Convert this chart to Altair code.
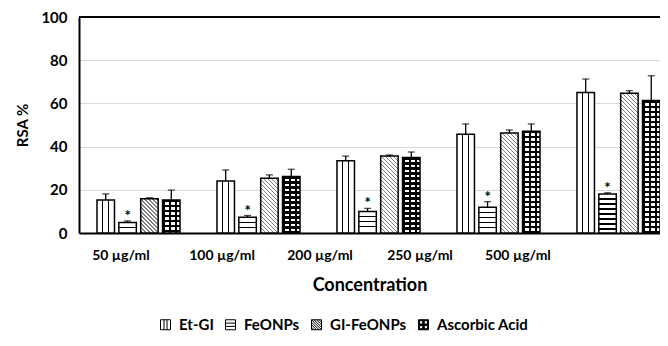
import altair as alt

# ---------------- data ----------------
CONC = ["50 µg/ml", "100 µg/ml", "200 µg/ml", "250 µg/ml", "500 µg/ml"]
SERIES = ["Et-GI", "FeONPs", "GI-FeONPs", "Ascorbic Acid"]

ET_GI = [15.3, 24.1, 33.5, 45.7, 65.1]
ET_GI_ERR = [2.8, 5.1, 2.1, 4.8, 6.2]
FEONPS = [4.9, 7.3, 9.9, 11.9, 18.0]
FEONPS_ERR = [0.7, 0.8, 1.5, 2.6, 0.6]
GI_FEONPS = [15.9, 25.3, 35.6, 46.3, 64.7]
GI_FEONPS_ERR = [0.4, 1.6, 0.5, 1.4, 1.2]
ASCORBIC = [15.3, 26.2, 35.0, 47.1, 61.3]
ASCORBIC_ERR = [4.6, 3.3, 2.5, 3.4, 11.5]
STAR = ["", "*", "", ""]          # significance mark per series

Y_TICKS = [0, 20, 40, 60, 80, 100]

# ---------------- layout / style ----------------
FONT = "Lato"
PLOT_W, PLOT_H, Y_MAX = 581, 216, 100
PX = PLOT_H / Y_MAX
GROUP_W = PLOT_W / (5 - 0.308 + 2 * 0.075) * (1 - 0.308)
BAR_W = GROUP_W / (4 - 0.2) * (1 - 0.2)
LABEL_SHIFT = [-17.5, -36.5, -58.5, -78.5, -100.5]


def band_stops(intervals, light, dark):
    stops = [{"offset": 0, "color": light}]
    for a, b in intervals:
        a = max(0.0, min(1.0, a))
        b = max(0.0, min(1.0, b))
        if b <= a:
            continue
        stops += [{"offset": a, "color": light}, {"offset": a, "color": dark},
                  {"offset": b, "color": dark}, {"offset": b, "color": light}]
    stops.append({"offset": 1, "color": light})
    return stops


def periodic(length, period, dark_w, phase):
    out, s = [], phase
    while s < length:
        out.append((s / length, (s + dark_w) / length))
        s += period
    return out


def grad(x1, y1, x2, y2, stops):
    return {"gradient": "linear", "x1": x1, "y1": y1, "x2": x2, "y2": y2, "stops": stops}


def fills(series, v):
    h = max(v * PX, 1.0)
    w = BAR_W
    if series == "Et-GI":
        g = grad(0, 0, 1, 0, band_stops([(0.30, 0.37), (0.63, 0.70)], "white", "black"))
        return g, "transparent"
    if series == "FeONPs":
        iv, k = [], 1
        while 5 * k < h - 1.5:
            iv.append(((5 * k - 0.7) / h, (5 * k + 0.7) / h))
            k += 1
        return grad(0, 0, 0, 1, band_stops(iv, "white", "black")), "transparent"
    if series == "GI-FeONPs":
        L = w + h
        kk = L / (w * w + h * h)
        g = grad(0, 1, kk * w, 1 - kk * h, band_stops(periodic(L, 4.0, 1.3, 1.0), "white", "#808080"))
        return g, "transparent"
    g1 = grad(0, 0, 0, 1, band_stops(periodic(h, 5.0, 2.2, 0.0), "white", "black"))
    g2 = grad(0, 0, 1, 0, band_stops(periodic(w, 5.8, 2.4, 0.4), "rgba(0,0,0,0)", "black"))
    return g1, g2


VALUES = [ET_GI, FEONPS, GI_FEONPS, ASCORBIC]
ERRORS = [ET_GI_ERR, FEONPS_ERR, GI_FEONPS_ERR, ASCORBIC_ERR]
records = []
for si, s in enumerate(SERIES):
    for ci, c in enumerate(CONC):
        v, e = VALUES[si][ci], ERRORS[si][ci]
        g1, g2 = fills(s, v)
        records.append({"conc": c, "series": s, "value": v, "upper": v + e,
                        "grad": g1, "grad2": g2, "star": STAR[si]})
data = alt.Data(values=records)

SHAPES = [
    "M-1,-1H1V1H-1Z M-0.3,-1V1 M0.3,-1V1",
    "M-1,-1H1V1H-1Z M-1,-0.33H1 M-1,0.33H1",
    "M-1,-1H1V1H-1Z M-1,-1L1,1 M-0.5,-1L1,0.5 M0,-1L1,0 M0.5,-1L1,-0.5 "
    "M-1,-0.5L0.5,1 M-1,0L0,1 M-1,0.5L-0.5,1",
    "M-1,-1H1V1H-1Z M-0.8,-0.8V-0.15H-0.15V-0.8Z M0.15,-0.8V-0.15H0.8V-0.8Z "
    "M-0.8,0.15V0.8H-0.15V0.15Z M0.15,0.15V0.8H0.8V0.15Z",
]
LEGEND_FILL = ["white", "white", "white", "black"]
LEGEND_STROKE = ["black", "black", "black", "black"]

conc_list = "[" + ",".join("'" + c + "'" for c in CONC) + "]"
shift_list = "[" + ",".join(str(o) for o in LABEL_SHIFT) + "]"
offset_expr = shift_list + "[indexof(" + conc_list + ", datum.value)]"

x_enc = alt.X(
    "conc:N", sort=CONC, title="Concentration",
    scale=alt.Scale(domain=CONC, paddingInner=0.308, paddingOuter=0.075, align=1),
    axis=alt.Axis(labelAngle=0, ticks=False, domainColor="black", domainWidth=2,
                  labelFont=FONT, labelFontWeight="bold", labelFontSize=14,
                  labelColor="black", labelPadding=15,
                  labelOffset={"expr": offset_expr},
                  titleFont=FONT, titleFontWeight="bold", titleFontSize=18,
                  titleColor="black", titleY=52, titleBaseline="middle"),
)
xo_enc = alt.XOffset("series:N", sort=SERIES,
                     scale=alt.Scale(domain=SERIES, paddingInner=0.2, paddingOuter=0))
y_enc = alt.Y(
    "value:Q", title="RSA %",
    scale=alt.Scale(domain=[0, Y_MAX], nice=False),
    axis=alt.Axis(values=Y_TICKS, grid=True, gridColor="#d9d9d9", gridWidth=1,
                  ticks=False, domainColor="black", domainWidth=2,
                  labelFont=FONT, labelFontWeight="bold", labelFontSize=15,
                  labelColor="black", labelPadding=12,
                  titleFont=FONT, titleFontWeight="bold", titleFontSize=15,
                  titleColor="black", titleAngle=-90, titleBaseline="middle",
                  titleX=-57, titleY=PLOT_H / 2),
)

legend = alt.Legend(orient="none", legendX=79, legendY=300, direction="horizontal",
                    title=None, symbolSize=100, symbolStrokeColor="black",
                    symbolStrokeWidth=1, symbolOpacity=1,
                    labelFont=FONT, labelFontWeight="bold", labelFontSize=15,
                    labelColor="black", labelOffset=6, columnPadding=9)

legend_layer = alt.Chart(data).mark_point(filled=True, size=0, strokeWidth=1).encode(
    x=x_enc, xOffset=xo_enc, y=y_enc,
    color=alt.Color("series:N", sort=SERIES,
                    scale=alt.Scale(domain=SERIES, range=LEGEND_FILL), legend=legend),
    stroke=alt.Stroke("series:N", sort=SERIES,
                      scale=alt.Scale(domain=SERIES, range=LEGEND_STROKE), legend=legend),
    shape=alt.Shape("series:N", sort=SERIES,
                    scale=alt.Scale(domain=SERIES, range=SHAPES), legend=legend),
)

bars_a = alt.Chart(data).mark_bar(strokeWidth=0).encode(
    x=x_enc, xOffset=xo_enc, y=y_enc,
    fill=alt.Fill("grad:N", scale=None, legend=None),
)
bars_b = alt.Chart(data).mark_bar(stroke="black", strokeWidth=1.5).encode(
    x=x_enc, xOffset=xo_enc, y=y_enc,
    fill=alt.Fill("grad2:N", scale=None, legend=None),
)
err_rule = alt.Chart(data).mark_rule(color="black", strokeWidth=1.3).encode(
    x=x_enc, xOffset=xo_enc, y=y_enc, y2="upper:Q",
)
err_cap = alt.Chart(data).mark_tick(orient="horizontal", size=7, thickness=1.3,
                                    color="black").encode(
    x=x_enc, xOffset=xo_enc, y=alt.Y("upper:Q"),
)
stars = alt.Chart(data).mark_text(baseline="middle", dy=-5, fontSize=15,
                                  fontWeight="bold", font=FONT, color="black").encode(
    x=x_enc, xOffset=xo_enc, y=alt.Y("upper:Q"), text="star:N",
)
top_line = alt.Chart(data).mark_rule(color="black", strokeWidth=1.8).encode(
    y=alt.datum(Y_MAX),
)

chart = alt.layer(legend_layer, bars_a, bars_b, err_rule, err_cap, stars, top_line).properties(
    width=PLOT_W, height=PLOT_H,
    autosize=alt.AutoSizeParams(type="none"),
    padding={"left": 71, "top": 9, "right": 0, "bottom": 100},
).configure_view(stroke=None)

chart.save("out.html", embed_options={"renderer": "svg", "actions": False})
